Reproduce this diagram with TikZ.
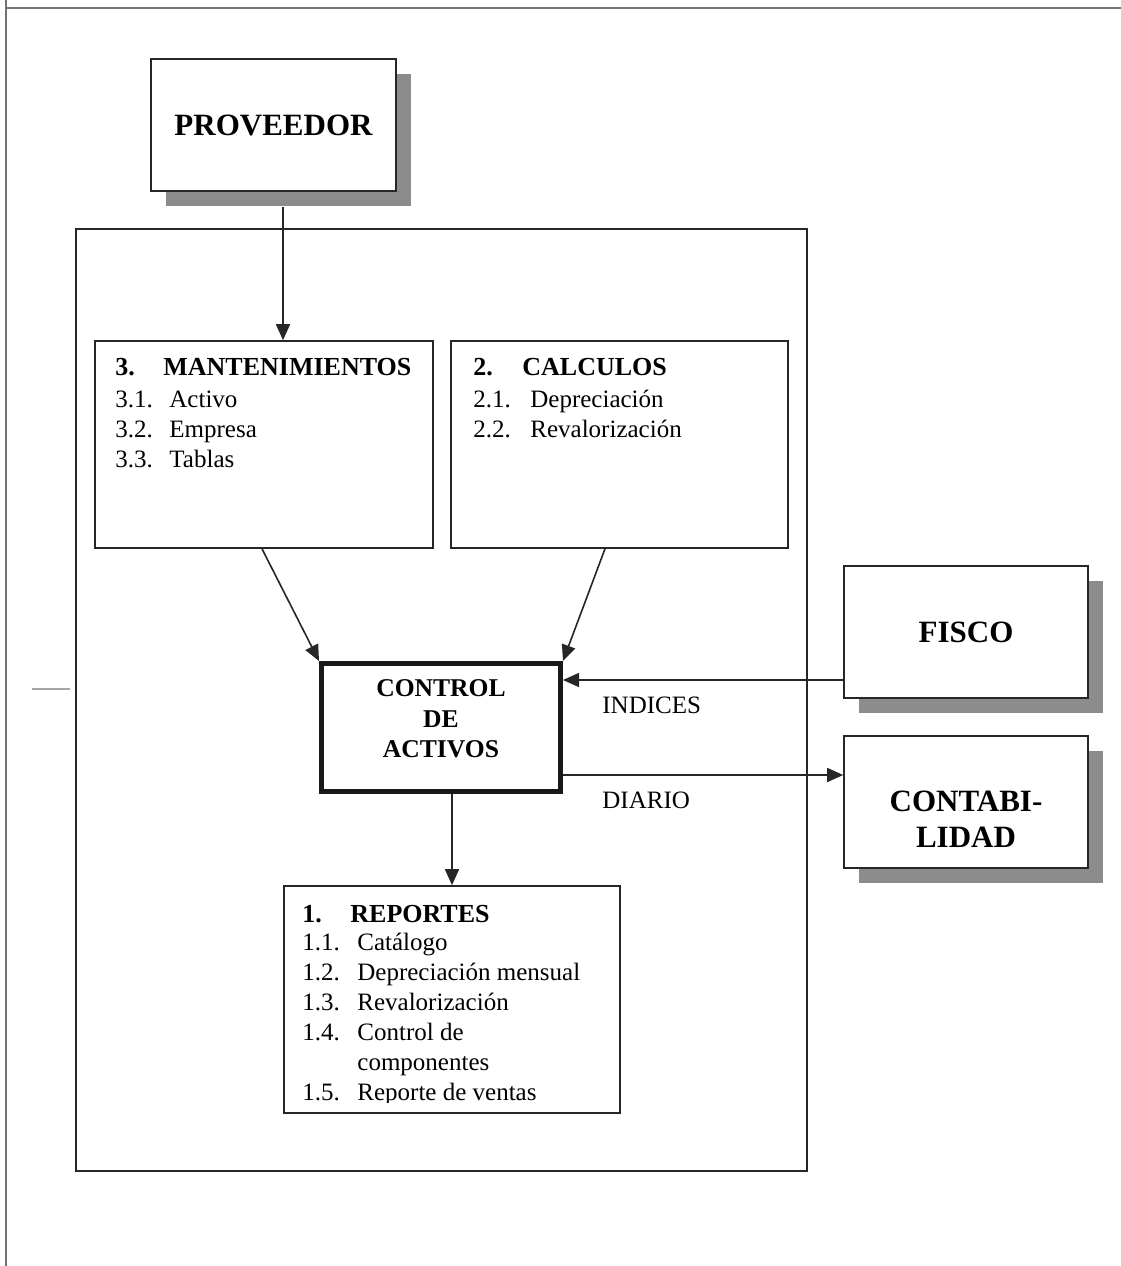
\documentclass[tikz,border=0pt]{standalone}
\usepackage{fontspec}
\setmainfont{Liberation Serif}
\usetikzlibrary{arrows.meta,shadows}

\tikzset{
  box/.style={draw=black!85, line width=0.8pt, fill=white, inner sep=0pt},
  big/.style={font=\fontsize{15.5}{18}\selectfont\bfseries},
  extbox/.style={box, big, minimum width=122pt, minimum height=66pt,
    drop shadow={shadow xshift=7.5pt, shadow yshift=-7.5pt, fill=black!45, opacity=1}},
  txt/.style={font=\fontsize{12.5}{15}\selectfont, inner sep=0pt, anchor=base west},
  head/.style={txt, font=\fontsize{13}{15}\selectfont\bfseries},
  arr/.style={draw=black!85, line width=0.8pt, -{Triangle[length=8pt,width=7pt]}},
  frame/.style={draw=black!55, line width=1pt},
}

\begin{document}
\begin{tikzpicture}[x=0.5pt, y=-0.5pt]
\useasboundingbox (0,0) rectangle (1121,1266);
% page frame
\draw[frame] (6,0) -- (6,1266);
\draw[frame] (6,8) -- (1121,8);
\draw[black!35, line width=0.6pt] (32,689) -- (70,689);

% system
\node[box, minimum width=365.5pt, minimum height=471pt] (sys) at (441.5,700) {};

% external entities
\node[extbox, minimum width=122.5pt] (prov) at (273.5,125) {PROVEEDOR};
\node[extbox] (fisco) at (966,632) {FISCO};
\node[extbox] (conta) at (966,802) {};
\node[big, align=center, inner sep=0pt] (conta-t) at ([yshift=-8.75pt]conta.center) {CONTABI-\\LIDAD};

% modules
\node[box, minimum width=169pt, minimum height=103.5pt] (mant) at (264,444.5) {};
\node[box, minimum width=168.5pt, minimum height=103.5pt] (calc) at (619.5,444.5) {};
\node[box, line width=2.5pt, draw=black!90, minimum width=119.5pt, minimum height=64pt] (ctrl) at (441,727.5) {};
\node[font=\fontsize{12.8}{15.25}\selectfont\bfseries, align=center, inner sep=0pt] (ctrl-t) at ([yshift=4.25pt]ctrl.center) {CONTROL\\DE\\ACTIVOS};
\node[box, minimum width=168pt, minimum height=113.5pt] (rep) at (452,999.5) {};

% mantenimientos
\node[head] (mant-n) at (115,375) {3.};
\node[head] (mant-h) at (163,375) {MANTENIMIENTOS};
\foreach \t [count=\i] in {Activo, Empresa, Tablas} {
  \node[txt] (mant-n\i) at (115,377+30*\i) {3.\i.};
  \node[txt] (mant-\i) at (169,377+30*\i) {\t};
}

% calculos
\node[head] (calc-n) at (473,375) {2.};
\node[head] (calc-h) at (522,375) {CALCULOS};
\foreach \t [count=\i] in {Depreciación, Revalorización} {
  \node[txt] (calc-n\i) at (473,377+30*\i) {2.\i.};
  \node[txt] (calc-\i) at (530,377+30*\i) {\t};
}

% reportes
\begin{scope}
\clip (rep.north west) rectangle ([yshift=5.5pt]rep.south east);
\node[head] (rep-n) at (302,922) {1.};
\node[head] (rep-h) at (350,922) {REPORTES};
\foreach \t [count=\i] in {Catálogo, Depreciación mensual, Revalorización, Control de} {
  \node[txt] (rep-n\i) at (302,920+30*\i) {1.\i.};
  \node[txt] (rep-\i) at (357,920+30*\i) {\t};
}
\node[txt] (rep-4b) at (357,1070) {componentes};
\node[txt] (rep-n5) at (302,1100) {1.5.};
\node[txt] (rep-5) at (357,1100) {Reporte de ventas};
\end{scope}

% flows
\draw[arr] ([xshift=4.75pt,yshift=-7.5pt]prov.south) -- ([xshift=4.75pt]prov.south |- mant.north);
\draw[arr] ([xshift=-1pt]mant.south) -- (ctrl.north west);
\draw[arr] ([xshift=-7.25pt]calc.south) -- (ctrl.north east);
\draw[arr] ([yshift=-24pt]fisco.west) -- ([yshift=-24pt]fisco.west -| ctrl.east);
\draw[arr] ([yshift=13.5pt]conta.west -| ctrl.east) -- ([yshift=13.5pt]conta.west);
\draw[arr] (ctrl.south -| rep.north) -- (rep.north);

\node[txt] (indices) at (602,713) {INDICES};
\node[txt] (diario) at (602,808) {DIARIO};
\end{tikzpicture}
\end{document}
